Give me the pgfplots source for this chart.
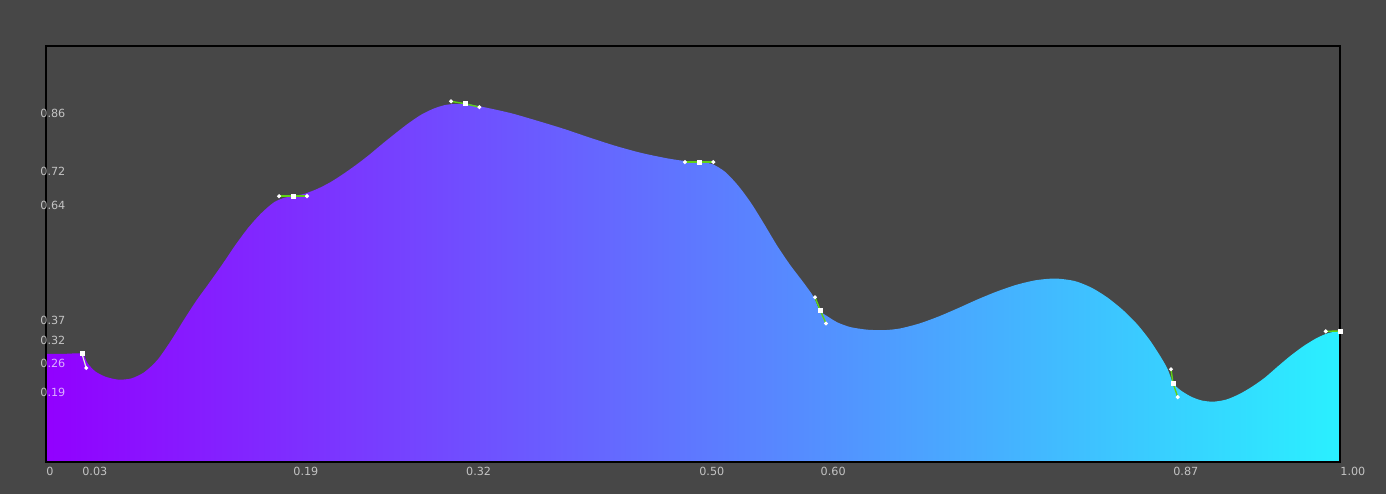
\documentclass[border=0pt]{standalone}
\usepackage{pgfplots}
\pgfplotsset{compat=1.18}
\usepackage{pgfplotstable}
\usepackage{fontspec}
\setmainfont{DejaVu Sans}

\definecolor{bgc}{RGB}{71,71,71}
\definecolor{leftc}{RGB}{146,0,255}
\definecolor{rightc}{RGB}{42,240,255}
\definecolor{handle}{RGB}{96,210,20}

% curve read off the editor
\pgfplotstableread{
x y
0.000 0.260
0.014 0.260
0.028 0.260
0.032 0.238
0.038 0.218
0.046 0.205
0.056 0.198
0.066 0.201
0.076 0.216
0.086 0.245
0.096 0.289
0.106 0.339
0.116 0.387
0.126 0.430
0.136 0.474
0.146 0.520
0.156 0.562
0.166 0.597
0.176 0.624
0.184 0.635
0.191 0.639
0.200 0.645
0.210 0.657
0.220 0.673
0.230 0.693
0.240 0.715
0.250 0.739
0.260 0.765
0.270 0.790
0.280 0.814
0.290 0.835
0.300 0.850
0.310 0.859
0.324 0.861
0.340 0.852
0.360 0.838
0.380 0.820
0.400 0.801
0.420 0.780
0.440 0.760
0.460 0.743
0.480 0.730
0.495 0.723
0.505 0.721
0.515 0.716
0.525 0.697
0.535 0.664
0.545 0.622
0.555 0.572
0.565 0.520
0.575 0.474
0.585 0.433
0.593 0.398
0.598 0.364
0.604 0.350
0.612 0.335
0.622 0.324
0.635 0.318
0.648 0.317
0.660 0.321
0.675 0.333
0.690 0.350
0.705 0.370
0.720 0.391
0.735 0.410
0.750 0.426
0.765 0.437
0.780 0.441
0.795 0.435
0.808 0.419
0.820 0.396
0.832 0.366
0.843 0.332
0.853 0.293
0.862 0.250
0.867 0.222
0.871 0.190
0.877 0.172
0.885 0.157
0.893 0.148
0.902 0.145
0.912 0.150
0.922 0.163
0.932 0.181
0.942 0.203
0.952 0.230
0.962 0.256
0.972 0.279
0.982 0.298
0.991 0.310
1.000 0.315
}\curve

\begin{document}
\begin{tikzpicture}
\fill[bgc] (0,0) rectangle (693pt,247pt);
\begin{axis}[
  at={(23pt,16pt)}, anchor=south west,
  scale only axis, width=647pt, height=208pt,
  xmin=0, xmax=1, ymin=0, ymax=1,
  axis line style={black, line width=0.6pt},
  axis on top,
  clip=false,
  major tick length=0pt,
  xtick={0,0.0278,0.1909,0.3244,0.5046,0.5984,0.8709,1},
  xticklabels={0,0.03,0.19,0.32,0.50,0.60,0.87,1.00},
  ytick={0.190,0.260,0.315,0.364,0.639,0.721,0.861},
  yticklabels={0.19,0.26,0.32,0.37,0.64,0.72,0.86},
  ticklabel style={font=\fontsize{5.6}{6.6}\selectfont, text=white, text opacity=0.68, inner sep=0pt},
  xticklabel style={anchor=north west, yshift=-2.2pt},
  yticklabel style={anchor=north west, xshift=-3pt, yshift=-2.4pt},
  /pgf/number format/assume math mode=true,
]
\addplot[draw=none, left color=leftc, right color=rightc, smooth, tension=0.45] table {\curve} \closedcycle;

% tangent handles
\addplot[white!80!handle, line width=0.6pt, mark=*, mark size=0.6pt, mark options={white}] coordinates {(0.0278,0.260) (0.0311,0.226)};
\addplot[handle, line width=0.7pt, mark=*, mark size=0.6pt, mark options={white}] coordinates {(0.1801,0.639) (0.1909,0.639) (0.2017,0.639)};
\addplot[handle, line width=0.7pt, mark=*, mark size=0.6pt, mark options={white}] coordinates {(0.3130,0.867) (0.3244,0.861) (0.3349,0.853)};
\addplot[handle, line width=0.7pt, mark=*, mark size=0.6pt, mark options={white}] coordinates {(0.4938,0.721) (0.5046,0.721) (0.5157,0.721)};
\addplot[handle, line width=0.7pt, mark=*, mark size=0.6pt, mark options={white}] coordinates {(0.5943,0.396) (0.5984,0.364) (0.6028,0.333)};
\addplot[handle, line width=0.7pt, mark=*, mark size=0.6pt, mark options={white}] coordinates {(0.8694,0.223) (0.8709,0.190) (0.8746,0.156)};
\addplot[handle, line width=0.7pt, mark=*, mark size=0.6pt, mark options={white}] coordinates {(0.9890,0.314) (1.0,0.315)};

% keys
\addplot[only marks, mark=square*, mark size=1pt, mark options={white, draw=white}] coordinates {
  (0.0278,0.260) (0.1909,0.639) (0.3244,0.861) (0.5046,0.721)
  (0.5984,0.364) (0.8709,0.190) (1.0,0.315)};
\end{axis}
\pgfresetboundingbox
\path (0,0) rectangle (693pt,247pt);
\end{tikzpicture}
\end{document}
